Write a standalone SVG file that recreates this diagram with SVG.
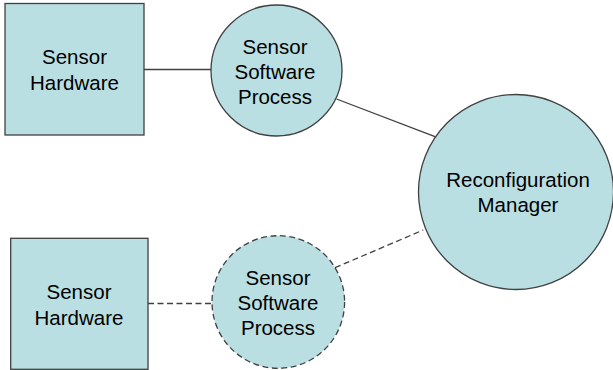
<svg xmlns="http://www.w3.org/2000/svg" width="613" height="370" viewBox="0 0 613 370">
<style>
.node{fill:#b9dfe3;stroke:#404040;stroke-width:1.3}
.dash{stroke-dasharray:6,3.5}
.conn{stroke:#404040;stroke-width:1.3;fill:none}
text{font-family:"Liberation Sans",Arial,sans-serif;font-size:20.5px;fill:#000;text-anchor:middle}
</style>
<rect width="613" height="370" fill="#fff"/>
<g id="connectors">
<line class="conn" x1="144" y1="69.5" x2="211" y2="69.5"/>
<line class="conn" x1="336.5" y1="99" x2="435" y2="136.7"/>
<line class="conn dash" x1="148" y1="303.5" x2="212" y2="303.5"/>
<line class="conn dash" x1="335" y1="267.7" x2="423.3" y2="230"/>
</g>
<g id="hw1">
<rect class="node" x="5" y="3.5" width="139" height="131.5"/>
<text x="74.5" y="63.5">Sensor</text>
<text x="74.5" y="90">Hardware</text>
</g>
<g id="ssp1">
<circle class="node" cx="276.5" cy="70.5" r="65.5"/>
<text x="275" y="53.5">Sensor</text>
<text x="275" y="78.5">Software</text>
<text x="275" y="103.5">Process</text>
</g>
<g id="hw2">
<rect class="node" x="10.7" y="238.3" width="137.3" height="131"/>
<text x="79" y="298.5">Sensor</text>
<text x="79" y="324.5">Hardware</text>
</g>
<g id="ssp2">
<circle class="node dash" cx="278.3" cy="302" r="66.3"/>
<text x="278" y="285">Sensor</text>
<text x="278" y="310">Software</text>
<text x="278" y="335">Process</text>
</g>
<g id="rm">
<circle class="node" cx="516" cy="192" r="97.5"/>
<text x="518" y="187">Reconfiguration</text>
<text x="518" y="211.5">Manager</text>
</g>
</svg>
